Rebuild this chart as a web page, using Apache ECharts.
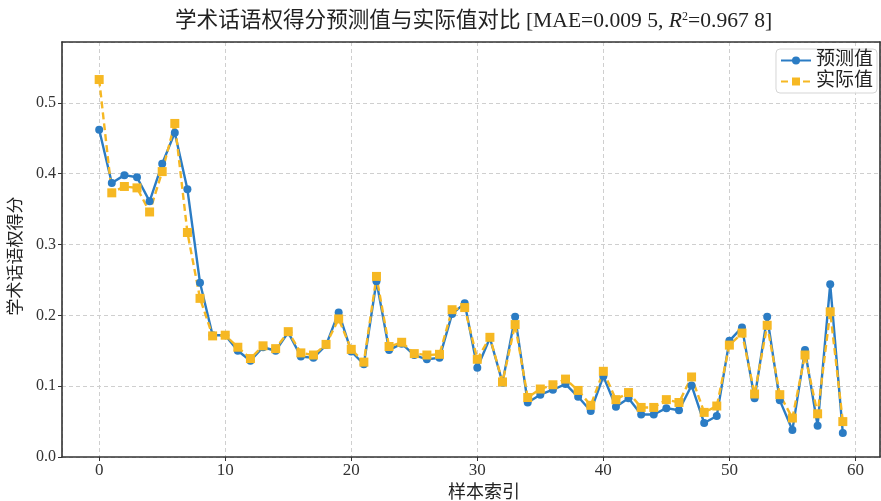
<!DOCTYPE html>
<html><head><meta charset="utf-8">
<script src="https://cdn.jsdelivr.net/npm/echarts@6/dist/echarts.min.js"></script>
<style>html,body{margin:0;padding:0;background:#fff}#c{width:881px;height:501px}</style>
</head><body><div id="c"></div>
<script>
const predicted = [0.462,0.387,0.398,0.395,0.361,0.414,0.458,0.378,0.246,0.172,
0.172,0.150,0.136,0.155,0.150,0.176,0.142,0.140,0.158,0.204,
0.149,0.131,0.248,0.151,0.160,0.144,0.138,0.140,0.202,0.217,
0.126,0.168,0.105,0.198,0.077,0.088,0.095,0.103,0.085,0.065,
0.114,0.071,0.083,0.060,0.060,0.069,0.066,0.101,0.048,0.058,
0.164,0.183,0.083,0.198,0.080,0.038,0.151,0.044,0.244,0.034];
const actual = [0.533,0.373,0.382,0.380,0.346,0.403,0.471,0.317,0.224,0.171,
0.172,0.155,0.139,0.157,0.153,0.177,0.147,0.144,0.159,0.195,
0.152,0.134,0.255,0.156,0.162,0.146,0.144,0.145,0.208,0.211,
0.138,0.169,0.106,0.187,0.084,0.096,0.102,0.110,0.094,0.073,
0.121,0.081,0.091,0.070,0.070,0.081,0.077,0.113,0.063,0.072,
0.158,0.175,0.089,0.186,0.088,0.055,0.144,0.061,0.205,0.050];
const seriesNames = ['预测值','实际值'];
const xMin = -2.95, xMax = 61.95;
const yMin = 0, yMax = 0.586;

const FONT = '"Liberation Serif", "Noto Sans CJK SC", serif';
const BLUE = '#2B7CC4', ORANGE = '#F6B823';
const toPairs = arr => arr.map((v,i)=>[i,v]);
const frameAxis = {show:true,lineStyle:{color:'#333',width:1.6},onZero:false};

const chart = echarts.init(document.getElementById('c'));
chart.setOption({
  animation:false,
  textStyle:{fontFamily:FONT},
  title:{
    text:'{a|学术话语权得分预测值与实际值对比 [MAE=0.009 5, }{i|R}{s|2}{a|=0.967 8]}',
    left:170, top:6,
    textStyle:{fontWeight:'normal',rich:{
      a:{fontFamily:FONT,fontSize:21.6,color:'#222',fontWeight:'normal'},
      i:{fontFamily:FONT,fontSize:21.6,color:'#222',fontStyle:'italic',fontWeight:'normal'},
      s:{fontFamily:FONT,fontSize:12,color:'#222',verticalAlign:'top',padding:[0,0,9,0],fontWeight:'normal'}
    }}
  },
  legend:{
    data:[{name:seriesNames[0]},{name:seriesNames[1]}],
    right:4, top:49, orient:'vertical',
    itemWidth:30, itemHeight:10, itemGap:2,
    textStyle:{fontFamily:FONT,fontSize:19,color:'#222'},
    backgroundColor:'rgba(255,255,255,0.85)',
    borderColor:'#d5d5d5', borderWidth:1, borderRadius:4,
    padding:[2,4,2,4]
  },
  grid:{left:62,right:1,top:42,bottom:44,outerBoundsMode:'none',containLabel:false},
  xAxis:[{
    type:'value', min:xMin, max:xMax, splitNumber:6,
    name:'样本索引', nameLocation:'middle', nameGap:26,
    nameTextStyle:{fontFamily:FONT,fontSize:18,color:'#222',padding:[0,0,0,26]},
    axisLine:frameAxis,
    axisTick:{show:true,length:4,lineStyle:{color:'#333'}},
    axisLabel:{showMinLabel:false,showMaxLabel:false,fontFamily:FONT,fontSize:17,color:'#333',margin:5,
      formatter:v=> (Math.abs(v-Math.round(v))<1e-6 && Math.round(v)%10===0)? String(Math.round(v)):''},
    splitLine:{show:true,lineStyle:{color:'#cfcfcf',type:[4,3],width:1}}
  },{
    type:'value', min:xMin, max:xMax, position:'top',
    axisLine:frameAxis, axisTick:{show:false}, axisLabel:{show:false}, splitLine:{show:false}
  }],
  yAxis:[{
    type:'value', min:yMin, max:yMax, interval:0.1,
    name:'学术话语权得分', nameLocation:'middle', nameGap:37,
    nameTextStyle:{fontFamily:FONT,fontSize:17,color:'#222',padding:[0,0,0,-13]},
    axisLine:frameAxis,
    axisTick:{show:true,length:4,lineStyle:{color:'#333'}},
    axisLabel:{showMaxLabel:false,fontFamily:FONT,fontSize:16,color:'#333',margin:6,
      formatter:v=>v.toFixed(1)},
    splitLine:{show:true,lineStyle:{color:'#cfcfcf',type:[4,3],width:1}}
  },{
    type:'value', min:yMin, max:yMax, position:'right',
    axisLine:frameAxis, axisTick:{show:false}, axisLabel:{show:false}, splitLine:{show:false}
  }],
  series:[
    {name:seriesNames[0],type:'line',data:toPairs(predicted),
     symbol:'circle',symbolSize:8,
     lineStyle:{color:BLUE,width:2.4},itemStyle:{color:BLUE}},
    {name:seriesNames[1],type:'line',data:toPairs(actual),
     symbol:'rect',symbolSize:9,
     lineStyle:{color:ORANGE,width:2.4,type:[7,4]},itemStyle:{color:ORANGE}}
  ]
});
</script></body></html>
